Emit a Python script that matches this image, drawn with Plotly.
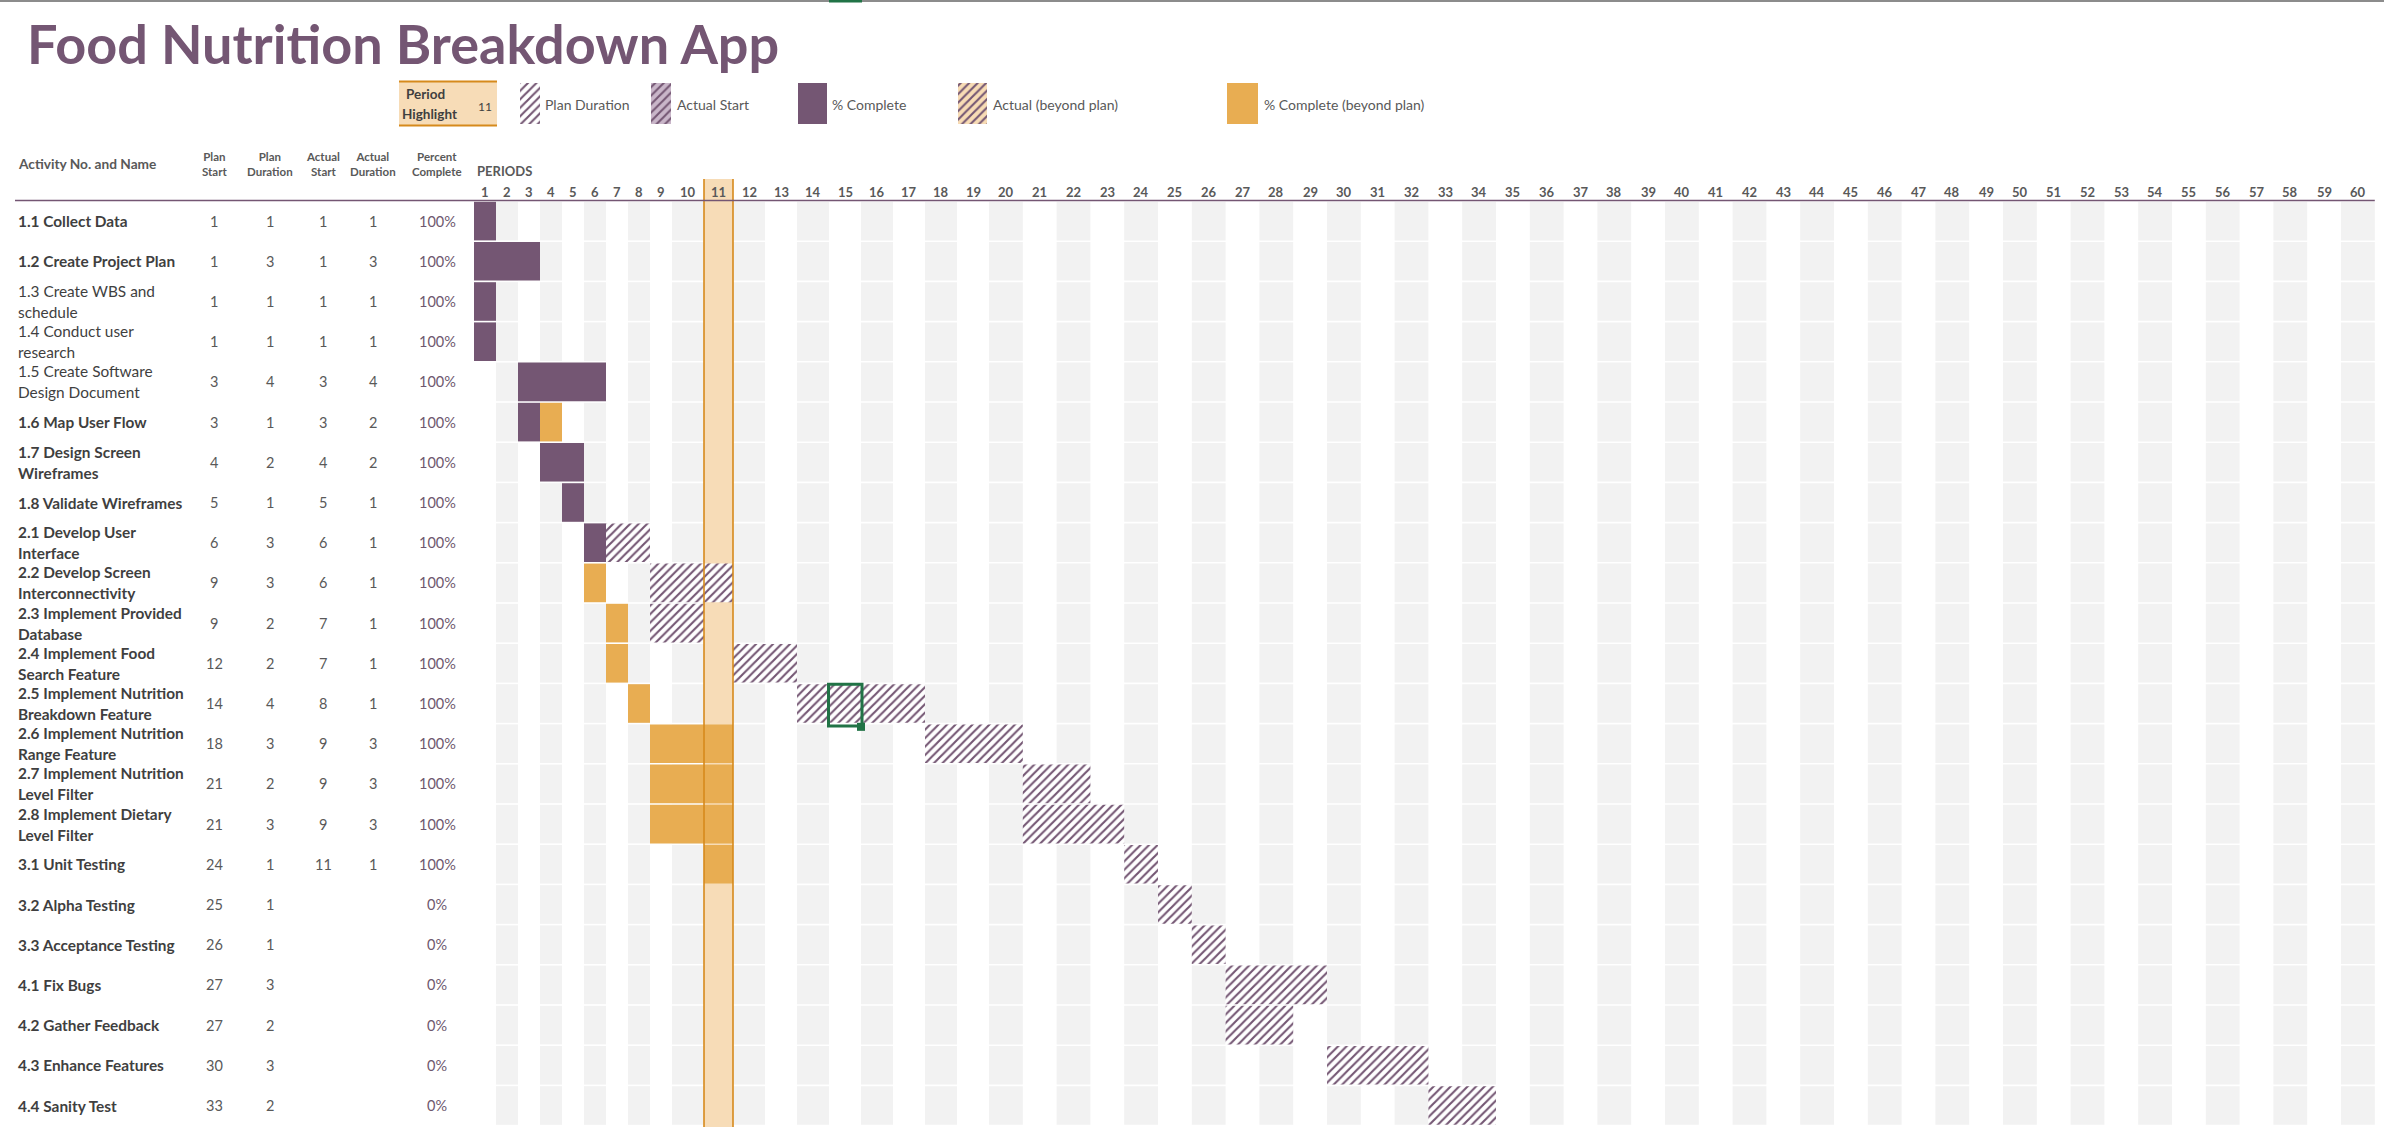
import plotly.graph_objects as go

# ---------------- data ----------------
title = "Food Nutrition Breakdown App"
activities = [
    "1.1 Collect Data", "1.2 Create Project Plan", "1.3 Create WBS and<br>schedule",
    "1.4 Conduct user<br>research", "1.5 Create Software<br>Design Document", "1.6 Map User Flow",
    "1.7 Design Screen<br>Wireframes", "1.8 Validate Wireframes", "2.1 Develop User<br>Interface",
    "2.2 Develop Screen<br>Interconnectivity", "2.3 Implement Provided<br>Database",
    "2.4 Implement Food<br>Search Feature", "2.5 Implement Nutrition<br>Breakdown Feature",
    "2.6 Implement Nutrition<br>Range Feature", "2.7 Implement Nutrition<br>Level Filter",
    "2.8 Implement Dietary<br>Level Filter", "3.1 Unit Testing", "3.2 Alpha Testing",
    "3.3 Acceptance Testing", "4.1 Fix Bugs", "4.2 Gather Feedback", "4.3 Enhance Features",
    "4.4 Sanity Test",
]
plan_start = [1, 1, 1, 1, 3, 3, 4, 5, 6, 9, 9, 12, 14, 18, 21, 21, 24, 25, 26, 27, 27, 30, 33]
plan_duration = [1, 3, 1, 1, 4, 1, 2, 1, 3, 3, 2, 2, 4, 3, 2, 3, 1, 1, 1, 3, 2, 3, 2]
actual_start = [1, 1, 1, 1, 3, 3, 4, 5, 6, 6, 7, 7, 8, 9, 9, 9, 11, None, None, None, None, None, None]
actual_duration = [1, 3, 1, 1, 4, 2, 2, 1, 1, 1, 1, 1, 1, 3, 3, 3, 1, None, None, None, None, None, None]
percent_complete = [100, 100, 100, 100, 100, 100, 100, 100, 100, 100, 100, 100, 100, 100, 100, 100, 100,
                    0, 0, 0, 0, 0, 0]
periods = list(range(1, 61))
period_highlight = 11
column_headers = ["Plan<br>Start", "Plan<br>Duration", "Actual<br>Start", "Actual<br>Duration",
                  "Percent<br>Complete"]
legend_labels = ["Plan Duration", "Actual Start", "% Complete", "Actual (beyond plan)",
                 "% Complete (beyond plan)"]
legend_kinds = ["plan", "actual", "complete", "actual_beyond", "complete_beyond"]

# ---------------- style / layout ----------------
W, H = 2384, 1127
FONT = "Lato, 'Open Sans', sans-serif"
PURPLE = "#745673"
ORANGE = "#E8AD52"
PEACH = "#F7DCB7"
ORANGE_LINE = "#D68A1C"
STRIPE = "#F2F2F2"
TEXT = "#595959"
DARK = "#3F3F3F"
PCT = "#6E586E"
GREEN = "#217346"

GRID_LEFT = 474
col_widths = [22] * 9 + [32, 29] + [32] * 8 + [33.8] * 41
edges = [GRID_LEFT]
for w in col_widths:
    edges.append(edges[-1] + w)
ROW_TOP, ROW_H = 201, 40.2
BAR_W = 0.96
LINE_OFFSET = 10.5 / ROW_H      # half line spacing for wrapped names
light_name_rows = {2, 3, 4}   # rows typed in a lighter font in the sheet
table_cols_x = [214, 270, 323, 373, 437]
legend_swatch = [(520, 20), (651, 20), (798, 29), (958, 29), (1227, 31)]
legend_text_x = [543, 675, 830, 991, 1262]


def yrow(px):
    return (px - ROW_TOP) / ROW_H - 0.5


def ypap(px):
    return 1 - px / H


n = len(activities)
fig = go.Figure()

# background stripes (even periods)
sy, sb, sx = [], [], []
for p in periods:
    if p % 2 == 0:
        for i in range(n):
            sy.append(i)
            sb.append(edges[p - 1])
            sx.append(col_widths[p - 1])
fig.add_trace(go.Bar(orientation="h", y=sy, base=sb, x=sx, width=BAR_W,
                     marker=dict(color=STRIPE, line=dict(width=0)), hoverinfo="skip"))

# classify periods per task
kinds = ["plan", "actual", "actual_beyond", "complete", "complete_beyond"]
segs = {k: {"y": [], "base": [], "x": []} for k in kinds}
for i in range(n):
    plan = set(range(plan_start[i], plan_start[i] + plan_duration[i]))
    act, done = set(), set()
    if actual_start[i] is not None:
        a0, ad = actual_start[i], actual_duration[i]
        act = set(range(a0, a0 + ad))
        done = set(range(a0, a0 + round(ad * percent_complete[i] / 100)))
    kp = {}
    for p in periods:
        if p in done:
            kp[p] = "complete" if p in plan else "complete_beyond"
        elif p in act:
            kp[p] = "actual" if p in plan else "actual_beyond"
        elif p in plan:
            kp[p] = "plan"
    runs = []
    for p in periods:
        k = kp.get(p)
        if k is None:
            continue
        if runs and runs[-1][0] == k and runs[-1][2] == p:
            runs[-1][2] = p + 1
        else:
            runs.append([k, p, p + 1])
    for k, p0, p1 in runs:
        segs[k]["y"].append(i)
        segs[k]["base"].append(edges[p0 - 1])
        segs[k]["x"].append(edges[p1 - 1] - edges[p0 - 1])


def hatch(bg):
    return dict(color=bg, line=dict(width=0),
                pattern=dict(shape="/", fgcolor=PURPLE, bgcolor=bg, size=6, solidity=0.35,
                             fillmode="replace"))


styles = {
    "plan": hatch("white"),
    "actual": hatch("#C9B6C9"),
    "actual_beyond": hatch("#F8DCB5"),
    "complete": dict(color=PURPLE, line=dict(width=0)),
    "complete_beyond": dict(color=ORANGE, line=dict(width=0)),
}
for k in kinds:
    fig.add_trace(go.Bar(orientation="h", y=segs[k]["y"], base=segs[k]["base"], x=segs[k]["x"],
                         width=BAR_W, marker=styles[k], hoverinfo="skip"))

# legend swatches
for k, (x0, w) in zip(legend_kinds, legend_swatch):
    fig.add_trace(go.Bar(orientation="h", y=[yrow(103.5)], base=[x0], x=[w], width=41 / ROW_H,
                         marker=styles[k], hoverinfo="skip"))

shapes = []
# highlighted period column
h0, h1 = edges[period_highlight - 1], edges[period_highlight]
shapes.append(dict(type="rect", xref="x", yref="y", x0=h0, x1=h1, y0=yrow(179), y1=yrow(H),
                   fillcolor=PEACH, line=dict(width=0), layer="below"))
for xx in (h0, h1):
    shapes.append(dict(type="line", xref="x", yref="y", x0=xx, x1=xx, y0=yrow(179), y1=yrow(H),
                       line=dict(color=ORANGE_LINE, width=1.6), layer="above"))
# header rule
shapes.append(dict(type="line", xref="x", yref="paper", x0=15, x1=edges[-1], y0=ypap(200.5),
                   y1=ypap(200.5), line=dict(color=PURPLE, width=1.5), layer="above"))
# period highlight box
shapes.append(dict(type="rect", xref="x", yref="paper", x0=399, x1=497, y0=ypap(126), y1=ypap(81),
                   fillcolor=PEACH, line=dict(width=0)))
for yy in (81.5, 125.5):
    shapes.append(dict(type="line", xref="x", yref="paper", x0=399, x1=497, y0=ypap(yy), y1=ypap(yy),
                       line=dict(color=ORANGE_LINE, width=2)))
# excel selection cell (period 15, task 2.5)
sel_p, sel_r = 15, 12
shapes.append(dict(type="rect", xref="x", yref="y", x0=edges[sel_p - 1] - 0.5, x1=edges[sel_p] + 1,
                   y0=sel_r - 0.5 + 0.02, y1=sel_r + 0.5 + 0.06, line=dict(color=GREEN, width=3),
                   fillcolor="rgba(0,0,0,0)", layer="above"))
shapes.append(dict(type="rect", xref="x", yref="y", x0=edges[sel_p] - 4, x1=edges[sel_p] + 4,
                   y0=sel_r + 0.5 - 0.02, y1=sel_r + 0.5 + 0.18, line=dict(width=0),
                   fillcolor=GREEN, layer="above"))
# top strip
shapes.append(dict(type="line", xref="paper", yref="paper", x0=0, x1=1, y0=ypap(1), y1=ypap(1),
                   line=dict(color="#8C8C8C", width=2)))
shapes.append(dict(type="line", xref="x", yref="paper", x0=edges[sel_p - 1], x1=edges[sel_p] + 1,
                   y0=ypap(1), y1=ypap(1), line=dict(color=GREEN, width=3)))

ann = []
ann.append(dict(x=25, y=ypap(44), xref="x", yref="paper", text="<b>" + title + "</b>", showarrow=False,
                xanchor="left", yanchor="middle", font=dict(family=FONT, size=54, color=PURPLE)))
# legend texts
for lab, tx in zip(legend_labels, legend_text_x):
    ann.append(dict(x=tx, y=ypap(104), xref="x", yref="paper", text=lab, showarrow=False,
                    xanchor="left", yanchor="middle", font=dict(family=FONT, size=14, color=TEXT)))
ann.append(dict(x=404, y=ypap(94), xref="x", yref="paper", text="<b>Period</b>", showarrow=False,
                xanchor="left", yanchor="middle", font=dict(family=FONT, size=13.5, color=DARK)))
ann.append(dict(x=400, y=ypap(114), xref="x", yref="paper", text="<b>Highlight</b>", showarrow=False,
                xanchor="left", yanchor="middle", font=dict(family=FONT, size=13.5, color=DARK)))
ann.append(dict(x=494, y=ypap(107), xref="x", yref="paper", text=str(period_highlight), showarrow=False,
                xanchor="right", yanchor="middle", font=dict(family=FONT, size=12, color=DARK)))
# table header
ann.append(dict(x=16, y=ypap(163), xref="x", yref="paper", text="<b>Activity No. and Name</b>",
                showarrow=False, xanchor="left", yanchor="middle",
                font=dict(family=FONT, size=13.7, color=TEXT)))
for lab, cx in zip(column_headers, table_cols_x):
    ann.append(dict(x=cx, y=ypap(164), xref="x", yref="paper", text="<b>" + lab + "</b>",
                    showarrow=False, xanchor="center", yanchor="middle", align="center",
                    font=dict(family=FONT, size=11.5, color=TEXT)))
ann.append(dict(x=475, y=ypap(171), xref="x", yref="paper", text="<b>PERIODS</b>", showarrow=False,
                xanchor="left", yanchor="middle", font=dict(family=FONT, size=13, color=TEXT)))
for p in periods:
    ann.append(dict(x=(edges[p - 1] + edges[p]) / 2, y=ypap(192), xref="x", yref="paper",
                    text="<b>%d</b>" % p, showarrow=False, xanchor="center", yanchor="middle",
                    font=dict(family=FONT, size=13, color=TEXT)))
# table rows
for i in range(n):
    lines = activities[i].split("<br>")
    offs = [0.0] if len(lines) == 1 else [-LINE_OFFSET, LINE_OFFSET]
    for line, off in zip(lines, offs):
        txt = line if i in light_name_rows else "<b>" + line + "</b>"
        ann.append(dict(x=16, y=i + off, xref="x", yref="y", text=txt, showarrow=False,
                        xanchor="left", yanchor="middle", align="left",
                        font=dict(family=FONT, size=15.4, color=DARK)))
    vals = [plan_start[i], plan_duration[i], actual_start[i], actual_duration[i]]
    for v, cx in zip(vals, table_cols_x[:4]):
        if v is not None:
            ann.append(dict(x=cx, y=i, xref="x", yref="y", text=str(v), showarrow=False,
                            xanchor="center", yanchor="middle",
                            font=dict(family=FONT, size=14.5, color=TEXT)))
    ann.append(dict(x=table_cols_x[4], y=i, xref="x", yref="y", text="%d%%" % percent_complete[i],
                    showarrow=False, xanchor="center", yanchor="middle",
                    font=dict(family=FONT, size=14.5, color=PCT)))

fig.update_layout(
    width=W, height=H, margin=dict(l=0, r=0, t=0, b=0),
    paper_bgcolor="white", plot_bgcolor="white",
    barmode="overlay", showlegend=False, hovermode=False,
    xaxis=dict(range=[0, W], visible=False, fixedrange=True),
    yaxis=dict(range=[yrow(H), yrow(0)], visible=False, fixedrange=True),
    shapes=shapes, annotations=ann,
)
fig.write_html("out.html")
